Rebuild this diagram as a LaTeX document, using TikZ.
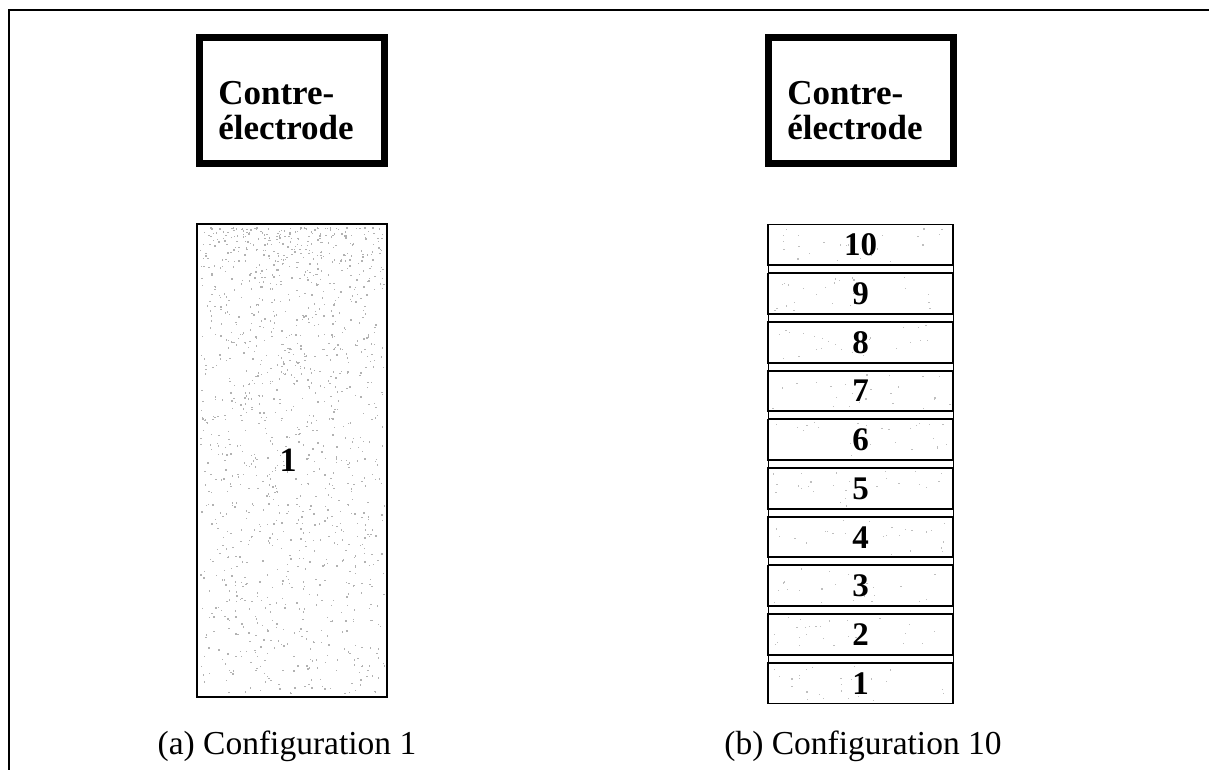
\documentclass[tikz,border=0pt]{standalone}
\usepackage{fontspec}
\setmainfont{Liberation Serif}
\newcommand{\ceLabel}{\raisebox{-20pt}[0pt][0pt]{\begin{tabular}{@{}l@{}}Contre-\\[-1pt]électrode\end{tabular}}\hspace*{12pt}}
\begin{document}
\begin{tikzpicture}[x=1pt,y=-1pt,
  electrode/.style={draw, line width=7pt, minimum width=185pt, minimum height=126pt,
    inner sep=0pt, font=\fontsize{35}{36}\selectfont\bfseries},
  slab/.style={draw, line width=1.6pt, minimum width=190pt, minimum height=473pt,
    inner sep=0pt, font=\fontsize{34}{34}\selectfont\bfseries},
  layer/.style={draw, line width=1.6pt, minimum width=185pt, minimum height=40.7pt,
    inner sep=0pt, font=\fontsize{33}{33}\selectfont\bfseries},
  gapstrip/.style={draw, line width=1pt},
  caption/.style={font=\fontsize{33.5}{35}\selectfont},
  frameline/.style={line width=2pt},
  speck/.style={fill=black!30}
]
\useasboundingbox (0,0) rectangle (1209,770);
% frame (top and left sides only)
\coordinate (fTL) at (9,10);
\coordinate (fTR) at (1209,10);
\coordinate (fBL) at (9,770);
\draw[frameline] (fTR) -- (fTL) -- (fBL);

% counter-electrodes
\node[electrode] (ceA) at (292,101) {\ceLabel};
\node[electrode] (ceB) at (861,101) {\ceLabel};

% configuration 1: single slab with speckles
\pgfmathsetseed{7}
\foreach \i in {1,...,1300} {
  \pgfmathsetmacro{\px}{200+184*rnd}
  \pgfmathsetmacro{\py}{227+466*rnd^1.5}
  \fill[speck] (\px,\py) rectangle ++(1.4,1.4);
}
\node[slab] (slabA) at (292,460.5) {\hspace*{-8pt}\raisebox{-4pt}{1}};

% configuration 10: ten stacked layers
\foreach \j in {0,...,9} {
  \pgfmathsetmacro{\top}{224+\j*48.7}
  \pgfmathtruncatemacro{\num}{10-\j}
  \foreach \k in {1,...,25} {
    \pgfmathsetmacro{\px}{772+178*rnd}
    \pgfmathsetmacro{\py}{\top+3+35*rnd}
    \fill[black!25] (\px,\py) rectangle ++(1.2,1.2);
  }
  \node[layer] (L\num) at (860.5,\top+21) {\num};
}
\foreach \j in {0,...,8} {
  \pgfmathsetmacro{\gt}{224+\j*48.7+40.7}
  \draw[gapstrip] (768,\gt) rectangle (953,\gt+8);
}

% captions
\node[caption] (capA) at (287,746) {(a) Configuration 1};
\node[caption] (capB) at (863,746) {(b) Configuration 10};
\end{tikzpicture}
\end{document}
